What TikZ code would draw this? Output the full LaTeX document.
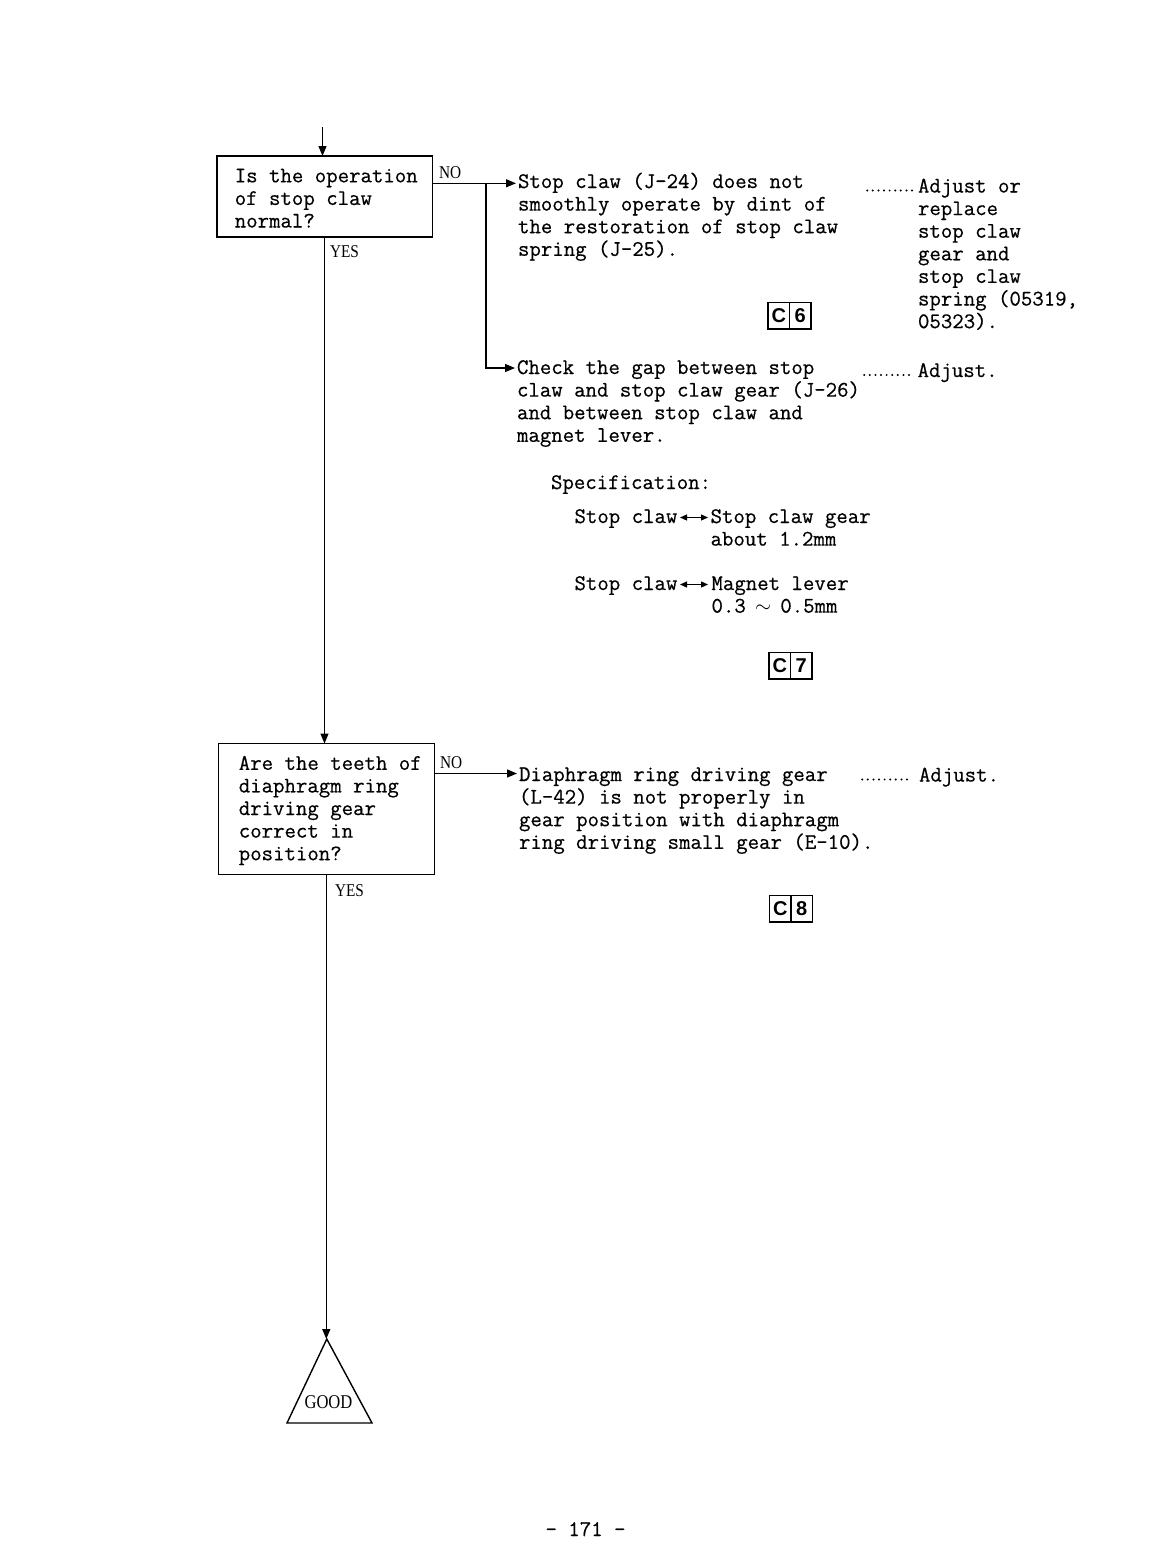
\documentclass[tikz,border=0pt]{standalone}
\usepackage{fontspec}
\usetikzlibrary{arrows.meta}
\newfontfamily\lblfont[FakeStretch=0.85]{Liberation Serif}
\newfontfamily\cfont{Liberation Sans}
\newfontfamily\monofam[FakeBold=0.5]{Latin Modern Mono}
\newcommand\mono{\monofam\fontsize{22.2}{22.6}\selectfont}
\newcommand\fs{\rule{0pt}{17pt}}
\newcommand\ia{\hspace*{3.5pt}}
\newcommand\ib{\hspace*{7.9pt}}
\begin{document}
\begin{tikzpicture}[x=1pt,y=-1pt,
  every node/.style={inner sep=0pt, outer sep=0pt},
  txt/.style={font=\mono, align=left, anchor=north west},
  qbox/.style={draw, line width=1.5pt, font=\mono, align=left},
  yn/.style={font=\lblfont\fontsize{18}{18}\selectfont, anchor=base west},
  arr/.style={line width=1.3pt, -{Triangle[length=10pt,width=8pt]}},
  dbl/.style={line width=1.2pt, {Triangle[length=7pt,width=6pt]}-{Triangle[length=7pt,width=6pt]}},
  leader/.style={line width=2.2pt, line cap=round, dash pattern=on 0pt off 5.6pt},
  cbox/.style={draw, line width=1.4pt, minimum width=21.5pt, minimum height=26.5pt, font=\cfont\bfseries\fontsize{20}{20}\selectfont, anchor=north west},
  tri/.style={line width=1.4pt, line join=miter}
]
\fill[white] (0,0) rectangle (1168,1566);
\useasboundingbox (0,0) rectangle (1168,1566);

% decision boxes
\node[qbox, minimum width=215.5pt, minimum height=81pt] (q1) at (324.5,196.5)
  {\ia\fs Is the operation\\\ia of stop claw\\\ia normal?};
\node[qbox, minimum width=216pt, minimum height=131pt] (q2) at (326.3,809)
  {\ib\fs Are the teeth of\\\ib diaphragm ring\\\ib driving gear\\\ib correct in\\\ib position?};

% YES / NO labels
\node[yn] (no1) at (439,178) {NO};
\node[yn] (yes1) at (330,257) {YES};
\node[yn] (no2) at (440,768) {NO};
\node[yn] (yes2) at (335,896) {YES};

% result texts
\node[txt] (a1) at (518,171) {\fs Stop claw (J-24) does not\\smoothly operate by dint of\\the restoration of stop claw\\spring (J-25).};
\node[txt] (r1) at (918,175.5) {\fs Adjust or\\replace\\stop claw\\gear and\\stop claw\\spring (05319,\\05323).};
\node[txt] (a2) at (517,357) {\fs Check the gap between stop\\claw and stop claw gear (J-26)\\and between stop claw and\\magnet lever.};
\node[txt] (r2) at (917.6,360) {\fs Adjust.};
\node[txt] (spec) at (551,472) {\fs Specification:};
\node[font=\mono, anchor=base west] (sc1) at (574.5,523) {Stop claw};
\node[txt] (g1) at (710.6,506) {\fs Stop claw gear\\about 1.2mm};
\node[font=\mono, anchor=base west] (sc2) at (574.5,590) {Stop claw};
\node[txt] (g2) at (711.5,573) {\fs Magnet lever\\0.3 \makebox[0.525em]{$\sim$} 0.5mm};
\node[txt] (a3) at (519,764) {\fs Diaphragm ring driving gear\\(L-42) is not properly in\\gear position with diaphragm\\ring driving small gear (E-10).};
\node[txt] (r3) at (919,764.5) {\fs Adjust.};

% leaders
\draw[leader] ([xshift=-6pt,yshift=-15pt]r1.north west) -- ++(-48,0);
\draw[leader] ([xshift=-8.6pt,yshift=-15pt]r2.north west) -- ++(-47,0);
\draw[leader] ([xshift=-12pt,yshift=-15pt]r3.north west) -- ++(-49,0);

% double arrows in specification
\coordinate (d1s) at (680,517.5);
\coordinate (d1e) at (708,517.5);
\draw[dbl] (d1s) -- (d1e);
\coordinate (d2s) at (680,584.5);
\coordinate (d2e) at (708,584.5);
\draw[dbl] (d2s) -- (d2e);

% reference boxes
\node[cbox] (c6a) at (768,302.5) {C};
\node[cbox, anchor=west] (c6b) at (c6a.east) {6};
\node[cbox] (c7a) at (769,652.5) {C};
\node[cbox, anchor=west] (c7b) at (c7a.east) {7};
\node[cbox] (c8a) at (769.5,895.5) {C};
\node[cbox, anchor=west] (c8b) at (c8a.east) {8};

% GOOD terminal
\coordinate (apex) at (326.8,1339);
\coordinate (bl) at (287,1423);
\coordinate (br) at (372,1423);
\draw[tri] (apex) -- (bl) -- (br) -- cycle;
\node[font=\lblfont\fontsize{19.5}{19.5}\selectfont] (good) at (328.5,1402.5) {GOOD};

% connectors
\coordinate (top) at (322.5,127);
\draw[arr] (top) -- (top |- q1.north);
\coordinate (t1) at (516,183.3);
\draw[arr] (t1 -| q1.east) -- (t1);
\coordinate (j1) at (486,183.3);
\coordinate (t2) at (515,368);
\draw[arr] (j1) |- (t2);
\draw[arr] (q1.south) -- (q1.south |- q2.north);
\coordinate (t3) at (517,773.5);
\draw[arr] (t3 -| q2.east) -- (t3);
\draw[arr] (q2.south) -- (q2.south |- apex);

% page number
\node[font=\mono, anchor=base] (pg) at (585.5,1536) {- 171 -};
\end{tikzpicture}
\end{document}
